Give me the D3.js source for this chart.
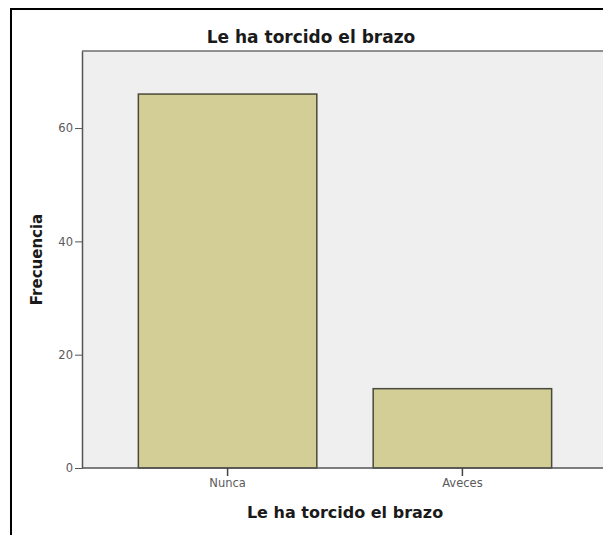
<!DOCTYPE html>
<html><head><meta charset="utf-8">
<script src="https://cdn.jsdelivr.net/npm/d3@7"></script>
<style>body{margin:0;background:#fff}svg{display:block}</style>
</head><body>
<svg id="c" width="603" height="535"></svg>
<script>
const categories = ["Nunca", "Aveces"];
const counts = [66, 14];
const yTicks = [0, 20, 40, 60];
const title = "Le ha torcido el brazo";
const xTitle = "Le ha torcido el brazo";
const yTitle = "Frecuencia";

const svg = d3.select("#c");
const L = 82, T = 51, B = 468, R = 603;
const FONT = "DejaVu Sans, Verdana, sans-serif";
const x = d3.scaleBand().domain(categories).range([L, 608]).paddingInner(0.24).paddingOuter(0.24);
const y = d3.scaleLinear().domain([0, 73.6]).range([B, T]);

// outer frame
svg.append("line").attr("x1",11).attr("x2",11).attr("y1",8).attr("y2",535).attr("stroke","#000").attr("stroke-width",2);
svg.append("line").attr("x1",10).attr("x2",603).attr("y1",9).attr("y2",9).attr("stroke","#000").attr("stroke-width",2);

// plot background
svg.append("rect").attr("x",L).attr("y",T).attr("width",R-L).attr("height",B-T).attr("fill","#efefef");
svg.append("line").attr("x1",L).attr("x2",R).attr("y1",T).attr("y2",T).attr("stroke","#6e6e6e").attr("stroke-width",1.5);

// bars
svg.selectAll("rect.bar").data(categories).enter().append("rect").attr("class","bar")
  .attr("x", d => x(d))
  .attr("y", (d,i) => y(counts[i]))
  .attr("width", x.bandwidth())
  .attr("height", (d,i) => B - y(counts[i]))
  .attr("fill","#d2ce96").attr("stroke","#4a4a3c").attr("stroke-width",1.5);

// y axis
const ya = svg.append("g").attr("transform",`translate(${L},0)`)
  .call(d3.axisLeft(y).tickValues(yTicks).tickSize(7).tickSizeOuter(0).tickPadding(2));
ya.select(".domain").attr("stroke","#555").attr("stroke-width",1.5);
ya.selectAll(".tick line").attr("stroke","#555");
ya.selectAll("text").attr("font-family",FONT).attr("font-size",11.5).attr("fill","#5a5a5a");

// x axis
svg.append("line").attr("x1",L).attr("x2",R).attr("y1",B).attr("y2",B).attr("stroke","#555").attr("stroke-width",1.5);
const xa = svg.append("g").attr("transform",`translate(0,${B})`)
  .call(d3.axisBottom(x).tickSize(8).tickSizeOuter(0).tickPadding(3));
xa.select(".domain").remove();
xa.selectAll(".tick line").attr("stroke","#444").attr("stroke-width",1.5);
xa.selectAll("text").attr("font-family",FONT).attr("font-size",11.5).attr("fill","#5a5a5a");

// titles
svg.append("text").attr("x",311).attr("y",43).attr("text-anchor","middle")
  .attr("font-family",FONT).attr("font-weight","bold").attr("font-size",17).attr("fill","#1a1a1a").text(title);
svg.append("text").attr("x",345).attr("y",518).attr("text-anchor","middle")
  .attr("font-family",FONT).attr("font-weight","bold").attr("font-size",16).attr("fill","#1a1a1a").text(xTitle);
svg.append("text").attr("transform",`translate(42,${(T+B)/2}) rotate(-90)`).attr("text-anchor","middle")
  .attr("font-family",FONT).attr("font-weight","bold").attr("font-size",15).attr("fill","#1a1a1a").text(yTitle);
</script>
</body></html>
